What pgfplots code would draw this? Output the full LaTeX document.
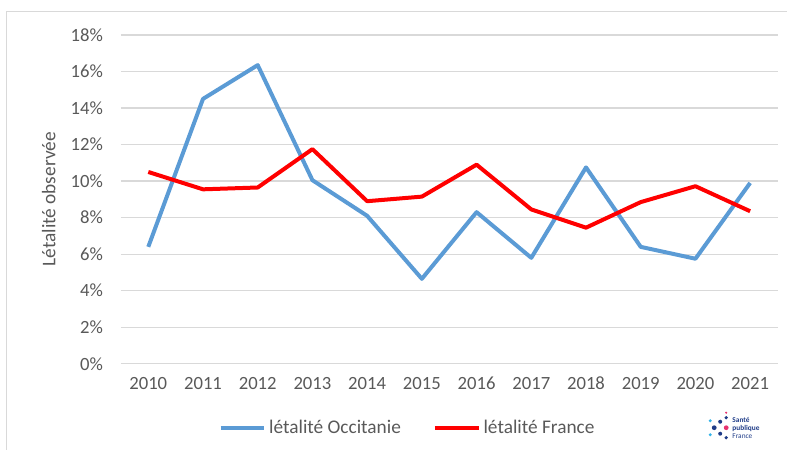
\documentclass[border=0pt]{standalone}
\usepackage{pgfplots}
\pgfplotsset{compat=1.18}
\usepackage{fontspec}
\setmainfont{Carlito}
\definecolor{occBlue}{HTML}{5B9BD5}
\definecolor{txtGray}{HTML}{595959}
\definecolor{gridGray}{HTML}{D9D9D9}
\definecolor{spfBlue}{HTML}{1F3C88}
\definecolor{spfCyan}{HTML}{35B4E8}
\definecolor{spfPink}{HTML}{E8336E}

% 1 px of the reference = 0.75pt; picture is 590.25pt x 337.5pt
\pgfplotstableread{
year occ fra
0 6.4  10.5
1 14.5 9.55
2 16.35 9.65
3 10.05 11.75
4 8.1  8.9
5 4.65 9.15
6 8.3  10.9
7 5.8  8.45
8 10.75 7.45
9 6.4  8.85
10 5.75 9.72
11 9.9 8.35
}\letalite

\begin{document}
\begin{tikzpicture}
\path (0pt,0pt) rectangle (590.25pt,337.5pt);
% chart frame
\draw[gridGray,line width=0.75pt] (5.25pt,0pt) -- (5.25pt,328.5pt) -- (590.25pt,328.5pt);

\begin{axis}[
  at={(90.75pt,64.5pt)}, anchor=south west,
  scale only axis, width=492.75pt, height=246.75pt,
  xmin=-0.5, xmax=11.5, ymin=0, ymax=18,
  xtick={0,...,11},
  xticklabels={2010,2011,2012,2013,2014,2015,2016,2017,2018,2019,2020,2021},
  ytick={0,2,...,18},
  yticklabel={\pgfmathprintnumber{\tick}\%},
  /pgf/number format/assume math mode=true,
  axis line style={draw=none}, tick style={draw=none},
  ymajorgrids, grid style={gridGray,line width=1pt},
  ticklabel style={font=\fontsize{14}{16}\selectfont, text=txtGray},
  yticklabel style={xshift=-10pt},
  xticklabel style={yshift=-7pt, text height=9pt},
  ylabel={Létalité observée},
  ylabel style={at={(axis description cs:-0.11,0.5)}, anchor=center, rotate=0,
    font=\fontsize{14.5}{16}\selectfont, text=txtGray},
  legend columns=2,
  legend style={at={(0.437,-0.195)}, anchor=center, draw=none, fill=none,
    font=\fontsize{14.5}{16}\selectfont, text=txtGray,
    /tikz/every even column/.append style={column sep=22pt}},
  legend image code/.code={\draw[#1] (0pt,0pt) -- (33pt,0pt);},
  clip=false,
]
\addplot[occBlue, line width=3pt, line join=round] table[x=year,y=occ] {\letalite};
\addlegendentry{létalité Occitanie}
\addplot[red, line width=3pt, line join=round] table[x=year,y=fra] {\letalite};
\addlegendentry{létalité France}
\end{axis}

% Santé publique France logo
\begin{scope}[shift={(536pt,16.5pt)}, x=0.75pt, y=0.75pt]
\fill[spfBlue] (0,0) circle (2.4);
\fill[spfPink] (12,0) circle (2.4);
\fill[spfBlue] (6,-6) circle (2);
\fill[spfBlue] (6,6) circle (2);
\fill[spfCyan] (-4,-7) circle (1.6);
\fill[spfCyan] (-4,7) circle (1.6);
\fill[spfBlue] (12,-10) circle (1.8);
\fill[spfBlue] (12,10) circle (1.8);
\fill[spfPink] (12,15) circle (1.2);
\node[anchor=west, align=left, inner sep=0pt, font=\fontsize{5.5}{6}\selectfont\bfseries, text=spfBlue]
  at (18,0) {Santé\\publique\\\mdseries France};
\end{scope}
\end{tikzpicture}
\end{document}
